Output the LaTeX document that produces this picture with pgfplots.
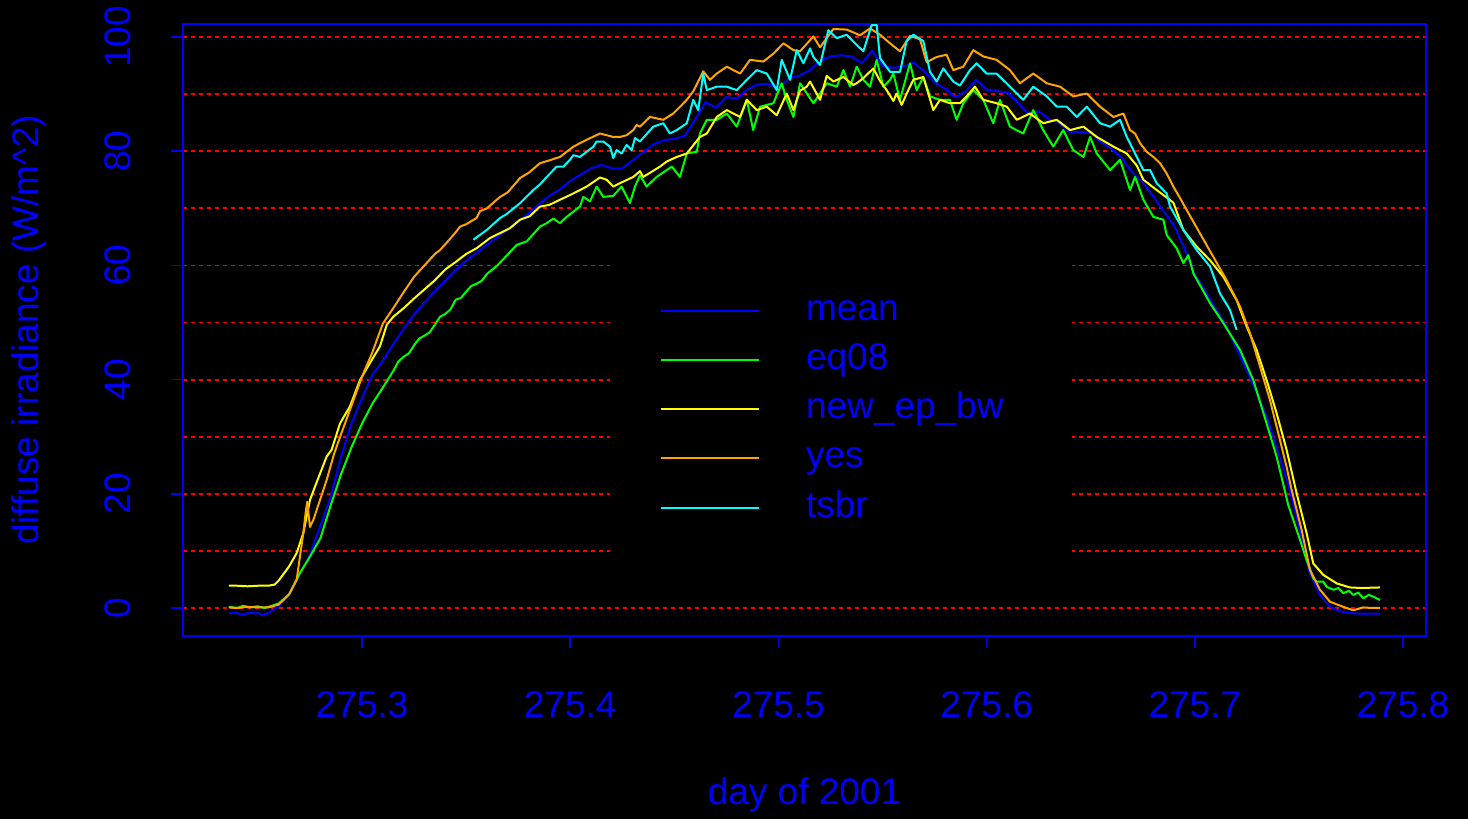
\documentclass[border=0pt]{standalone}
\usepackage{fontspec}
\setmainfont{Liberation Sans}
\usepackage{pgfplots}
\usepackage{pgfplotstable}
\pgfplotsset{compat=1.18}

\definecolor{rblue}{HTML}{0000FF}
\definecolor{rgreen}{HTML}{00FF00}
\definecolor{ryellow}{HTML}{FFFF00}
\definecolor{rorange}{HTML}{FFA500}
\definecolor{rcyan}{HTML}{00FFFF}
\definecolor{rred}{HTML}{FF0000}

% mean
\pgfplotstableread{
day val
275.236 -0.9
275.240 -0.9
275.243 -1.2
275.245 -0.9
275.250 -0.9
275.252 -1.2
275.255 -0.9
275.260 0.3
275.265 2.5
275.270 5.8
275.275 9.3
275.280 14.4
275.285 19.5
275.290 26.6
275.295 32.4
275.300 36.7
275.305 40.9
275.310 43.3
275.315 46.2
275.320 48.9
275.325 51.4
275.330 53.5
275.335 55.5
275.340 57.3
275.345 59.2
275.350 60.8
275.355 62.2
275.360 63.6
275.365 65.0
275.370 66.3
275.375 67.7
275.380 69.1
275.385 70.7
275.390 72.2
275.395 73.3
275.400 74.8
275.405 75.9
275.410 77.0
275.415 77.6
275.420 77.0
275.425 77.0
275.430 78.4
275.435 79.8
275.440 81.2
275.445 81.9
275.450 82.2
275.455 82.7
275.460 85.5
275.465 88.6
275.470 87.6
275.475 89.5
275.480 89.2
275.485 90.8
275.490 91.7
275.495 91.8
275.500 90.9
275.505 92.8
275.510 93.2
275.515 94.2
275.520 95.8
275.525 96.6
275.530 96.8
275.535 96.6
275.540 95.4
275.545 97.6
275.550 94.9
275.555 94.6
275.560 94.8
275.565 95.5
275.570 94.0
275.575 92.0
275.580 91.0
275.585 89.4
275.590 90.5
275.595 92.5
275.600 90.8
275.605 90.5
275.610 90.3
275.615 88.5
275.620 86.5
275.625 87.0
275.630 85.6
275.635 85.0
275.640 83.3
275.645 83.4
275.650 83.2
275.655 81.6
275.660 80.4
275.665 78.8
275.670 76.3
275.675 74.5
275.680 72.1
275.685 69.5
275.690 67.0
275.695 63.0
275.700 58.4
275.705 55.5
275.710 52.4
275.715 49.5
275.720 45.5
275.725 41.6
275.730 37.5
275.735 33.0
275.740 27.3
275.745 21.5
275.750 14.2
275.755 6.3
275.760 2.3
275.765 0.2
275.770 -0.6
275.775 -0.9
275.780 -1.0
275.785 -1.0
275.789 -1.0
}\meantab

% eq08
\pgfplotstableread{
day val
275.236 0.2
275.240 0.0
275.243 0.4
275.246 0.1
275.250 0.3
275.253 0.0
275.256 0.3
275.260 0.8
275.265 2.4
275.270 6.0
275.275 9.0
275.280 12.2
275.285 18.0
275.290 23.5
275.295 28.2
275.300 32.3
275.305 35.8
275.310 38.6
275.315 41.5
275.3175 43.2
275.320 44.0
275.3225 44.6
275.325 46.0
275.3275 47.2
275.330 47.7
275.3325 48.3
275.335 49.6
275.3375 51.0
275.340 51.5
275.3425 52.3
275.345 54.0
275.3475 54.3
275.350 55.4
275.3525 56.4
275.355 56.8
275.3575 57.3
275.360 58.5
275.3650 60.0
275.3679 61.1
275.3743 63.6
275.3791 64.2
275.3855 66.8
275.3887 67.4
275.3919 68.2
275.3951 67.4
275.3983 68.5
275.4015 69.4
275.4047 70.3
275.4063 72.0
275.4095 71.2
275.4127 73.8
275.4159 72.0
275.4207 72.2
275.4247 73.8
275.4287 70.9
275.4311 73.8
275.4335 75.8
275.4367 73.8
275.4415 75.5
275.4464 76.7
275.4488 77.3
275.4527 75.5
275.4560 79.6
275.4608 79.9
275.4623 83.1
275.4656 85.5
275.4704 85.5
275.4752 86.6
275.4800 84.3
275.4848 89.0
275.4879 83.7
275.4912 87.8
275.4976 88.4
275.5016 91.9
275.5040 89.0
275.5072 86.0
275.5104 91.9
275.5168 88.4
275.5232 91.9
275.5280 91.3
275.5312 94.2
275.5344 91.3
275.5376 94.8
275.5408 92.5
275.5440 91.3
275.5472 96.0
275.5504 91.3
275.5536 92.5
275.5552 93.6
275.5584 89.0
275.5632 95.4
275.5664 90.7
275.5696 93.0
275.5728 89.6
275.5776 89.0
275.5824 89.0
275.5856 85.5
275.5888 88.4
275.5936 90.7
275.5984 89.0
275.6032 84.9
275.6064 89.0
275.6112 84.3
275.6176 83.1
275.6224 87.2
275.6272 83.7
275.6320 80.8
275.6368 83.7
275.6416 80.2
275.6465 79.0
275.6497 82.5
275.6529 79.6
275.6593 76.7
275.6641 78.5
275.6689 73.2
275.6713 75.5
275.6753 71.5
275.6801 68.5
275.6849 68.0
275.6865 65.3
275.6913 63.0
275.6945 60.4
275.6969 61.8
275.6993 58.6
275.7073 53.4
275.7137 49.9
275.7217 45.2
275.7281 39.9
275.7345 32.3
275.7393 26.5
275.7449 18.0
275.7489 13.7
275.7537 8.4
275.7569 5.2
275.7585 4.6
275.7617 4.6
275.7634 3.7
275.7665 3.2
275.7690 3.5
275.7713 2.6
275.7740 3.0
275.7761 2.3
275.7785 2.7
275.7809 1.7
275.7835 2.3
275.7857 2.0
275.7889 1.4
}\eqtab

% new_ep_bw
\pgfplotstableread{
day val
275.236 3.9
275.240 3.9
275.245 3.8
275.250 3.9
275.255 3.9
275.258 4.1
275.260 4.8
275.265 7.3
275.2686 9.6
275.2718 13.1
275.2750 18.9
275.2782 22.0
275.2830 26.5
275.2854 27.7
275.2894 32.3
275.2942 35.3
275.2990 39.9
275.3038 42.9
275.3086 45.8
275.3119 49.6
275.315 51.0
275.320 52.5
275.325 54.2
275.330 55.8
275.335 57.4
275.340 59.3
275.345 60.6
275.350 62.0
275.355 63.0
275.3615 64.8
275.3660 65.6
275.3710 66.5
275.3759 68.0
275.3805 68.6
275.3855 70.3
275.3900 70.6
275.3951 71.5
275.4015 72.6
275.4079 73.8
275.4143 75.4
275.4175 75.0
275.4207 73.8
275.4239 74.4
275.4303 75.5
275.4335 76.5
275.4351 75.5
275.4431 77.3
275.4464 78.2
275.4512 79.0
275.4560 79.6
275.4623 82.5
275.4656 83.1
275.4704 86.0
275.4752 87.2
275.4816 86.0
275.4848 89.0
275.4896 87.2
275.4944 87.8
275.4992 86.3
275.5040 90.1
275.5072 87.2
275.5104 90.6
275.5136 91.3
275.5152 92.2
275.5200 89.0
275.5232 93.2
275.5264 92.2
275.5312 93.0
275.5360 91.6
275.5376 91.9
275.5408 92.8
275.5456 94.5
275.5488 92.3
275.5520 90.7
275.5552 88.8
275.5568 90.1
275.5592 88.1
275.5616 90.1
275.5648 92.5
275.5696 93.0
275.5744 87.2
275.5776 89.0
275.5824 88.4
275.5872 88.4
275.5904 89.6
275.5944 91.3
275.5984 89.0
275.6048 88.4
275.6097 87.8
275.6145 85.5
275.6208 86.6
275.6272 84.9
275.6337 85.5
275.6401 83.7
275.6465 84.3
275.6529 82.5
275.6609 80.8
275.6673 79.6
275.6721 77.5
275.6753 75.0
275.6817 73.2
275.6897 71.0
275.6945 66.2
275.7009 63.3
275.7073 60.9
275.7137 58.0
275.7201 53.9
275.7249 49.3
275.7297 45.2
275.7345 39.9
275.7393 34.1
275.7441 27.7
275.7489 20.1
275.7537 13.1
275.7569 7.8
275.7617 5.8
275.7682 4.3
275.7745 3.6
275.7800 3.5
275.7889 3.6
}\newtab

% yes
\pgfplotstableread{
day val
275.236 0.1
275.240 0.0
275.245 0.2
275.250 0.1
275.255 0.1
275.260 0.6
275.265 2.4
275.2686 4.9
275.2702 9.0
275.2718 13.1
275.2731 17.2
275.2737 18.6
275.2750 14.2
275.2766 15.4
275.2798 18.9
275.2830 22.4
275.2866 27.0
275.290 30.5
275.295 35.5
275.300 40.5
275.305 44.8
275.310 49.8
275.315 52.5
275.320 55.3
275.325 58.0
275.330 60.0
275.335 62.0
275.3375 62.7
275.340 63.7
275.345 65.8
275.3471 66.8
275.350 67.2
275.355 68.3
275.3567 69.5
275.360 70.0
275.3663 72.0
275.370 72.8
275.3759 75.3
275.380 76.2
275.3855 77.9
275.390 78.4
275.3951 79.0
275.4015 80.8
275.4079 82.0
275.4143 83.1
275.4207 82.5
275.4239 82.5
275.4271 82.8
275.4303 83.7
275.4319 84.6
275.4335 84.3
275.4383 86.0
275.4447 85.5
275.4495 86.6
275.4560 89.0
275.4591 90.5
275.4639 94.0
275.4671 92.5
275.4704 93.6
275.4752 94.8
275.4816 93.6
275.4864 96.0
275.4928 95.7
275.4976 97.1
275.5024 98.9
275.5072 97.7
275.5104 97.5
275.5168 100.1
275.5200 98.2
275.5264 101.4
275.5328 101.3
275.5392 100.3
275.5440 101.5
275.5488 100.4
275.5536 98.9
275.5584 97.5
275.5632 100.2
275.5680 99.6
275.5712 95.6
275.5760 96.5
275.5808 96.9
275.5840 94.2
275.5888 94.8
275.5936 97.7
275.5984 96.6
275.6048 96.0
275.6112 94.2
275.6160 91.9
275.6224 93.6
275.6289 91.9
275.6353 91.3
275.6416 89.6
275.6481 90.1
275.6545 87.8
275.6609 86.0
275.6657 86.6
275.6689 83.7
275.6713 83.1
275.6737 81.4
275.6769 79.9
275.6801 79.0
275.6833 77.9
275.6865 76.1
275.6897 73.8
275.6929 71.8
275.6961 69.7
275.7025 65.6
275.7089 61.5
275.7153 57.4
275.7217 52.8
275.7265 48.1
275.7313 42.3
275.7361 36.4
275.7409 29.4
275.7441 24.7
275.7465 20.7
275.7513 13.7
275.7553 6.7
275.7601 3.2
275.7649 1.1
275.7713 0.2
275.7761 -0.4
275.7809 0.1
275.7850 0.0
275.7889 0.0
}\yestab

% tsbr
\pgfplotstableread{
day val
275.3535 64.5
275.3599 66.2
275.3663 68.3
275.3695 69.0
275.3759 70.9
275.3823 73.2
275.3855 74.2
275.3903 76.1
275.3935 77.3
275.3967 77.3
275.3999 78.5
275.4015 79.3
275.4047 79.0
275.4079 79.9
275.4111 80.8
275.4127 81.7
275.4159 81.7
275.4191 80.8
275.4207 78.8
275.4223 80.2
275.4247 79.6
275.4271 81.1
275.4295 80.2
275.4311 82.3
275.4335 81.7
275.4399 84.3
275.4447 84.9
275.4479 83.1
275.4512 83.7
275.4560 84.9
275.4591 89.0
275.4615 87.2
275.4639 93.6
275.4656 90.7
275.4704 91.3
275.4752 91.3
275.4800 90.7
275.4848 92.5
275.4896 94.2
275.4944 93.6
275.4992 90.7
275.5016 96.0
275.5056 92.5
275.5088 97.7
275.5120 95.4
275.5152 98.0
275.5168 96.5
275.5200 95.1
275.5240 101.2
275.5280 99.8
275.5328 100.4
275.5376 98.6
275.5408 97.5
275.5448 102.1
275.5472 102.1
275.5488 96.3
275.5536 93.9
275.5584 93.9
275.5616 99.3
275.5648 100.4
275.5696 99.3
275.5728 93.9
275.5760 92.2
275.5792 94.5
275.5840 92.2
275.5872 91.5
275.5920 94.2
275.5952 95.4
275.6000 93.6
275.6048 93.6
275.6112 91.3
275.6176 89.0
275.6224 91.3
275.6289 89.6
275.6337 87.8
275.6385 87.8
275.6433 86.0
275.6481 87.8
275.6545 84.9
275.6593 84.3
275.6641 85.5
275.6673 82.5
275.6721 79.0
275.6753 76.7
275.6785 76.7
275.6817 74.4
275.6865 72.6
275.6881 70.3
275.6945 66.2
275.7009 62.7
275.7073 59.8
275.7121 55.1
275.7169 52.2
275.7201 48.7
}\tsbrtab

\begin{document}
\begin{tikzpicture}
\fill[black] (-91.5pt,-91.5pt) rectangle (642.5pt,318pt);
\begin{axis}[
    at={(0pt,0pt)}, anchor=south west,
    scale only axis, width=621.5pt, height=306pt,
    xmin=275.21402, xmax=275.81105,
    ymin=-4.904, ymax=102.28,
    font=\fontsize{18.5pt}{22pt}\selectfont,
    /pgf/number format/assume math mode=true,
    axis line style={rblue, line width=0.75pt},
    tick style={rblue, line width=0.75pt},
    tick align=outside, tick pos=left,
    major tick length=6pt, minor tick length=0pt,
    xtick={275.3,275.4,275.5,275.6,275.7,275.8},
    xticklabels={275.3,275.4,275.5,275.6,275.7,275.8},
    ytick={0,20,40,60,80,100},
    yticklabels={0,20,40,60,80,100},
    minor y tick num=1,
    ymajorgrids, yminorgrids,
    major grid style={rred, line width=0.9pt, dash pattern=on 2pt off 2pt},
    minor grid style={rred, line width=0.9pt, dash pattern=on 2pt off 2pt},
    ticklabel style={text=rblue, inner sep=0pt},
    xticklabel style={anchor=base, yshift=-34.75pt},
    yticklabel style={rotate=90, anchor=base, yshift=20.5pt},
    xlabel={day of 2001},
    ylabel={diffuse irradiance (W/m\^{}2)},
    label style={text=rblue},
    xlabel style={at={(axis description cs:0.5,-0.2753)}, anchor=base, inner sep=0pt},
    ylabel style={at={(axis description cs:-0.1163,0.5)}, anchor=base, inner sep=0pt},
    every axis plot/.append style={line width=1pt, line join=round},
    legend image code/.code={\draw[#1] (0pt,4.8pt) -- (48.85pt,4.8pt);},
    legend style={
        at={(axis description cs:0.3435,0.6127)}, anchor=north west,
        fill=black, draw=none,
        inner xsep=25pt, inner ysep=15.5pt,
        row sep=6.125pt,
        font=\fontsize{18.5pt}{22pt}\selectfont,
        text=rblue,
        nodes={inner sep=0pt, text height=13.875pt, text depth=4.625pt, text width=108pt, align=left},
        cells={anchor=base west},
        /tikz/every odd column/.append style={column sep=23pt},
    },
]
\addplot[rblue] table[x=day, y=val] {\meantab};
\addlegendentry{mean}
\addplot[rgreen] table[x=day, y=val] {\eqtab};
\addlegendentry{eq08}
\addplot[ryellow] table[x=day, y=val] {\newtab};
\addlegendentry{new\_ep\_bw}
\addplot[rorange] table[x=day, y=val] {\yestab};
\addlegendentry{yes}
\addplot[rcyan] table[x=day, y=val] {\tsbrtab};
\addlegendentry{tsbr}
\end{axis}
\pgfresetboundingbox
\path (-91.5pt,-91.5pt) rectangle (642.5pt,318pt);
\end{tikzpicture}
\end{document}
